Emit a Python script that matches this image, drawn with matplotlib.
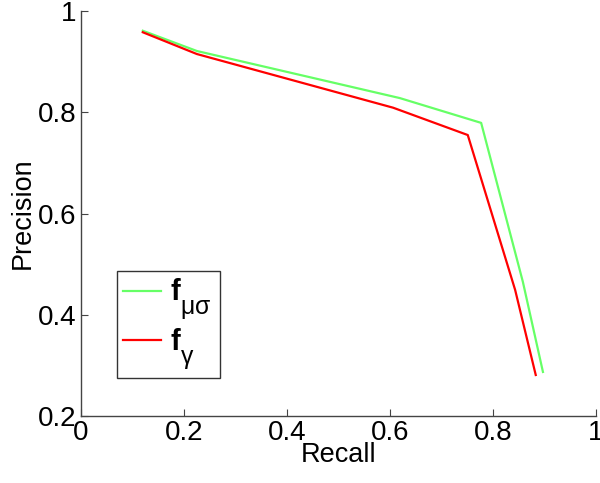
import matplotlib
matplotlib.use("Agg")
import matplotlib.pyplot as plt
import matplotlib._mathtext as _mt

_mt.SHRINK_FACTOR = 0.85
_mt.FontConstantsBase.sub1 = 0.9
_mt.FontConstantsBase.sub2 = 0.9

plt.rcParams['font.family'] = ['Liberation Sans', 'DejaVu Sans']
plt.rcParams['mathtext.fontset'] = 'custom'
plt.rcParams['mathtext.rm'] = 'Liberation Sans'
plt.rcParams['mathtext.bf'] = 'Liberation Sans:bold'
plt.rcParams['mathtext.it'] = 'Liberation Sans:italic'

recall_mu = [0.120, 0.225, 0.619, 0.777, 0.858, 0.897]
prec_mu = [0.961, 0.921, 0.828, 0.779, 0.465, 0.287]
recall_gamma = [0.120, 0.225, 0.606, 0.751, 0.843, 0.883]
prec_gamma = [0.958, 0.915, 0.809, 0.755, 0.449, 0.281]
labels = [r'$\mathbf{f}_{\mathrm{μσ}}$', r'$\mathbf{f}_{\mathrm{γ}}$']
xticks = [0, 0.2, 0.4, 0.6, 0.8, 1]
yticks = [0.2, 0.4, 0.6, 0.8, 1]

fig = plt.figure(figsize=(6.0, 4.83), dpi=100)
ax = fig.add_axes([81/600, 1-416/483, 515/600, 405/483])
ax.plot(recall_mu, prec_mu, color='#66ff66', lw=1.6, label=labels[0])
ax.plot(recall_gamma, prec_gamma, color='#ff0000', lw=1.6, label=labels[1])
ax.set_xlim(0, 1)
ax.set_ylim(0.2, 1)
ax.set_xticks(xticks)
ax.set_xticklabels(['0', '0.2', '0.4', '0.6', '0.8', '1'])
ax.set_yticks(yticks)
ax.set_yticklabels(['0.2', '0.4', '0.6', '0.8', '1'])
for s in ['top', 'right']:
    ax.spines[s].set_visible(False)
for s in ['left', 'bottom']:
    ax.spines[s].set_color('#444444')
    ax.spines[s].set_linewidth(1.0)
ax.tick_params(direction='in', length=5, width=0.8, color='#444444',
               labelsize=20, pad=3)
ax.set_xlabel('Recall', fontsize=19.5, labelpad=-3)
ax.set_ylabel('Precision', fontsize=19.5, labelpad=2)
leg = ax.legend(loc='lower left', bbox_to_anchor=(0.07, 0.094, 0.2, 0.266),
                mode='expand', fontsize=21, frameon=True, fancybox=False,
                edgecolor='black', handlelength=1.3, borderaxespad=0,
                handletextpad=0.3, labelspacing=0.15, borderpad=0.2)
leg.get_frame().set_linewidth(1.0)
fig.savefig('out.png', dpi=100)
